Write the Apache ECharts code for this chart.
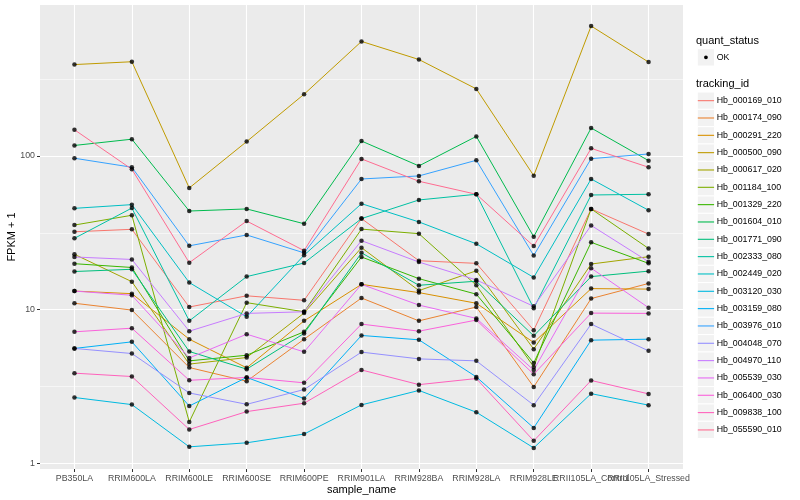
<!DOCTYPE html>
<html><head><meta charset="utf-8">
<script src="https://cdn.jsdelivr.net/npm/echarts@6/dist/echarts.min.js"></script>
<style>html,body{margin:0;padding:0;background:#fff}#c{width:800px;height:500px}</style>
</head><body><div id="c"></div><script>
const categories = ['PB350LA','RRIM600LA','RRIM600LE','RRIM600SE','RRIM600PE','RRIM901LA','RRIM928BA','RRIM928LA','RRIM928LE','RRII105LA_Control','RRII105LA_Stressed'];
const trackingIds = ['Hb_000169_010','Hb_000174_090','Hb_000291_220','Hb_000500_090','Hb_000617_020','Hb_001184_100','Hb_001329_220','Hb_001604_010','Hb_001771_090','Hb_002333_080','Hb_002449_020','Hb_003120_030','Hb_003159_080','Hb_003976_010','Hb_004048_070','Hb_004970_110','Hb_005539_030','Hb_006400_030','Hb_009838_100','Hb_055590_010'];
const colors = ['#F8766D','#EA8331','#D89000','#C09B00','#A3A500','#7CAE00','#39B600','#00BB4E','#00BF7D','#00C1A3','#00BFC4','#00BAE0','#00B0F6','#35A2FF','#9590FF','#C77CFF','#E76BF3','#FA62DB','#FF62BC','#FF6C91'];
const yTickLabels = ['1','10','100'];

const hb000169_010 = [32.1, 33.3, 10.4, 12.3, 11.5, 39.1, 20.8, 20.0, 7.35, 45.2, 31.0];
const hb000174_090 = [11.0, 9.93, 4.2, 3.42, 6.42, 11.9, 8.45, 10.4, 3.14, 11.8, 14.8];
const hb000291_220 = [13.2, 12.7, 6.42, 4.18, 8.45, 14.6, 12.9, 11.0, 6.11, 13.7, 13.6];
const hb000500_090 = [393, 410, 61.9, 124, 252, 556, 424, 273, 74.4, 700, 408];
const hb000617_020 = [22.9, 15.2, 4.42, 4.88, 9.5, 25.3, 13.3, 17.9, 5.53, 19.8, 22.1];
const hb001184_100 = [35.5, 41.1, 1.86, 11.1, 9.68, 33.4, 31.2, 14.4, 4.24, 45.2, 25.0];
const hb001329_220 = [19.9, 18.8, 4.64, 5.05, 7.17, 22.0, 15.9, 12.6, 4.50, 27.4, 20.0];
const hb001604_010 = [117, 128.5, 43.8, 45.2, 36.2, 125, 86.1, 134, 29.8, 152, 93.2];
const hb001771_090 = [17.7, 18.3, 5.34, 4.10, 7.0, 23.4, 14.4, 15.3, 6.75, 16.4, 17.8];
const hb002333_080 = [29.1, 45.8, 8.45, 16.4, 20.1, 39.1, 51.7, 56.3, 10.2, 55.7, 56.3];
const hb002449_020 = [45.6, 48.2, 15.0, 8.98, 22.6, 48.9, 37.2, 26.8, 16.2, 70.8, 44.3];
const hb003120_030 = [2.68, 2.41, 1.28, 1.36, 1.55, 2.40, 2.98, 2.15, 1.26, 2.84, 2.39];
const hb003159_080 = [5.59, 6.17, 2.36, 3.62, 2.64, 6.79, 6.36, 3.65, 1.70, 6.33, 6.42];
const hb003976_010 = [96.6, 84.4, 26.0, 30.6, 23.4, 70.8, 74.1, 93.7, 22.5, 96.0, 103];
const hb004048_070 = [5.59, 5.18, 2.87, 2.42, 3.02, 5.29, 4.78, 4.64, 2.39, 8.05, 5.39];
const hb004970_110 = [22.0, 21.2, 7.24, 9.45, 9.68, 28.1, 20.4, 15.6, 10.5, 35.3, 20.5];
const hb005539_030 = [13.2, 12.4, 4.85, 6.92, 5.31, 14.6, 10.7, 8.77, 4.04, 18.6, 10.3];
const hb006400_030 = [7.17, 7.57, 3.47, 3.62, 3.34, 8.05, 7.24, 8.55, 3.80, 9.49, 9.45];
const hb009838_100 = [3.86, 3.67, 1.66, 2.17, 2.46, 4.05, 3.25, 3.56, 1.40, 3.46, 2.83];
const hb055590_010 = [148, 81.9, 20.2, 37.7, 24.2, 95.6, 68.4, 56.3, 25.9, 112, 84.4];

const seriesValues = [hb000169_010, hb000174_090, hb000291_220, hb000500_090, hb000617_020, hb001184_100, hb001329_220, hb001604_010, hb001771_090, hb002333_080, hb002449_020, hb003120_030, hb003159_080, hb003976_010, hb004048_070, hb004970_110, hb005539_030, hb006400_030, hb009838_100, hb055590_010];

const FONT = '"Liberation Sans", Arial, Helvetica, sans-serif';
const isInt = v => Math.abs(v - Math.round(v)) < 1e-6;
const xTickValues = categories.map((c, i) => i);
const yTickValues = yTickLabels.map((l, i) => i);

const lineSeries = seriesValues.map((vals, k) => ({
  name: trackingIds[k],
  type: 'line',
  data: vals.map((v, i) => [i, Math.log10(v)]),
  symbol: 'none',
  lineStyle: { width: 1, color: colors[k] },
  itemStyle: { color: colors[k] },
  emphasis: { disabled: true },
  z: 2
}));
const pointData = [];
seriesValues.forEach(vals => vals.forEach((v, i) => pointData.push([i, Math.log10(v)])));

// ggplot-style legend drawn as graphic elements (keys, lines, labels)
const keyX = 697.3, keyW = 17.3, keyTop = 92, keyH = 17.33, textX = 716.7;
const graphics = [
  { type: 'text', x: 696, y: 40.7, style: { text: 'quant_status', font: '11px ' + FONT, fill: '#000', verticalAlign: 'middle' } },
  { type: 'rect', shape: { x: keyX, y: 48.7, width: keyW, height: keyH }, style: { fill: '#F2F2F2', stroke: '#fff', lineWidth: 1 } },
  { type: 'circle', shape: { cx: keyX + keyW / 2, cy: 48.7 + keyH / 2, r: 1.9 }, style: { fill: '#000' } },
  { type: 'text', x: textX, y: 48.7 + keyH / 2, style: { text: 'OK', font: '8.8px ' + FONT, fill: '#000', verticalAlign: 'middle' } },
  { type: 'text', x: 696, y: 84.3, style: { text: 'tracking_id', font: '11px ' + FONT, fill: '#000', verticalAlign: 'middle' } }
];
trackingIds.forEach((id, k) => {
  const y0 = keyTop + k * keyH, cy = y0 + keyH / 2;
  graphics.push({ type: 'rect', shape: { x: keyX, y: y0, width: keyW, height: keyH }, style: { fill: '#F2F2F2', stroke: '#fff', lineWidth: 1 } });
  graphics.push({ type: 'line', shape: { x1: keyX + 0.5, y1: cy, x2: keyX + keyW - 0.5, y2: cy }, style: { stroke: colors[k], lineWidth: 1.1 } });
  graphics.push({ type: 'text', x: textX, y: cy, style: { text: id, font: '8.8px ' + FONT, fill: '#000', verticalAlign: 'middle' } });
});

const chart = echarts.init(document.getElementById('c'), null, { renderer: 'canvas' });
chart.setOption({
  animation: false,
  backgroundColor: '#fff',
  textStyle: { fontFamily: FONT },
  grid: { left: 40, right: 117, top: 5, bottom: 31, containLabel: false, outerBoundsMode: 'none',
          show: true, backgroundColor: '#EBEBEB', borderWidth: 0 },
  xAxis: {
    type: 'value', min: -0.6, max: 10.6, splitNumber: 11, minInterval: 1, maxInterval: 1,
    axisLine: { show: false, onZero: false },
    axisTick: { show: true, length: 3, customValues: xTickValues, lineStyle: { color: '#333333', width: 1 } },
    axisLabel: { hideOverlap: false,
                 formatter: v => isInt(v) ? categories[Math.round(v)] : '', color: '#4D4D4D', fontSize: 8.8, margin: 5, fontFamily: FONT },
    splitLine: { show: true, lineStyle: { color: '#fff', width: 1.1 } },
    name: 'sample_name', nameLocation: 'middle', nameGap: 15.5, nameMoveOverlap: false,
    nameTextStyle: { color: '#000', fontSize: 11, fontFamily: FONT }
  },
  yAxis: {
    type: 'value', min: -0.037, max: 2.982, splitNumber: 3, minInterval: 1, maxInterval: 1,
    axisLine: { show: false, onZero: false },
    axisTick: { show: true, length: 3, customValues: yTickValues, lineStyle: { color: '#333333', width: 1 } },
    minorTick: { show: false, splitNumber: 2 },
    minorSplitLine: { show: true, lineStyle: { color: '#fff', width: 0.55 } },
    axisLabel: { formatter: v => isInt(v) ? yTickLabels[Math.round(v)] : '', color: '#4D4D4D', fontSize: 8.8, margin: 5, fontFamily: FONT },
    splitLine: { show: true, lineStyle: { color: '#fff', width: 1.1 } },
    name: 'FPKM + 1', nameLocation: 'middle', nameGap: 22.5, nameRotate: 90, nameMoveOverlap: false,
    nameTextStyle: { color: '#000', fontSize: 11, fontFamily: FONT }
  },
  graphic: { elements: graphics },
  series: lineSeries.concat([{
    name: 'OK', type: 'scatter', data: pointData, symbol: 'circle', symbolSize: 4.5,
    itemStyle: { color: '#000' }, emphasis: { disabled: true }, z: 5
  }])
});
</script></body></html>
